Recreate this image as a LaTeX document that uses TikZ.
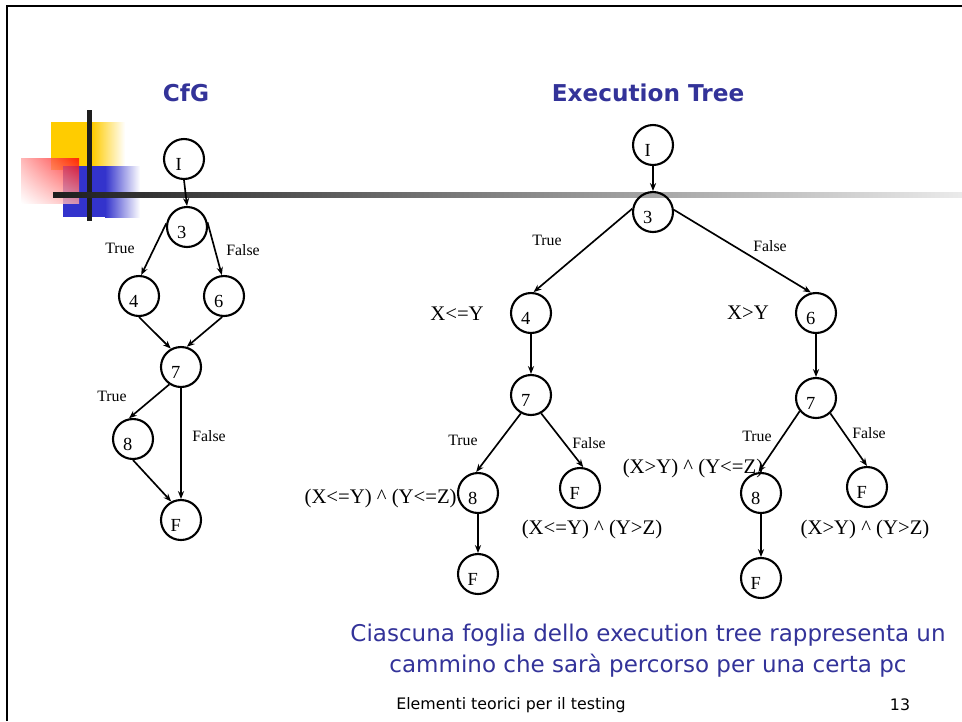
\documentclass[tikz,border=0pt]{standalone}
\usepackage{fontspec}
\setmainfont{Liberation Serif}
\newfontfamily\slidefont{DejaVu Sans}
\usetikzlibrary{arrows.meta,shadings}
\definecolor{slideblue}{RGB}{51,51,153}
\definecolor{barblack}{RGB}{30,30,30}
\definecolor{sqyellow}{RGB}{255,204,0}
\definecolor{sqblue}{RGB}{51,51,204}
\definecolor{sqred}{RGB}{255,0,0}
\tikzset{
  nd/.style={circle,draw,line width=1.2pt,minimum size=0.8cm,inner sep=0pt,
    label={[inner sep=0pt,xshift=-3pt,yshift=-3pt,font=\fontsize{10.5}{12}\selectfont]center:#1}},
  arc/.style={->,line width=0.95pt},
  tf/.style={font=\fontsize{9}{11}\selectfont,inner sep=0pt},
  pc/.style={font=\fontsize{11.8}{14}\selectfont,inner sep=0pt},
  ttl/.style={font=\slidefont\bfseries\fontsize{13.2}{16}\selectfont,text=slideblue},
}

\begin{document}
\begin{tikzpicture}[x=0.02cm,y=-0.02cm,>={Stealth[length=4.5pt,width=3.5pt]}]
      \useasboundingbox (0,0) rectangle (962,721) ;
      \draw[line width=1.2pt] (7,721) -- (7,6) -- (962,6) ;
      % corner squares and bars
      \fill[sqyellow] (51,122) rectangle (92,170) ;
      \shade[left color=sqyellow,right color=white] (92,122) rectangle (125,170) ;
      \fill[sqblue] (63,166) rectangle (105,217) ;
      \shade[left color=sqblue,right color=white] (105,166) rectangle (140,217) ;
      \shade[upper right=sqred,upper left=sqred!35!white,lower right=sqred!35!white,
        lower left=white,fill opacity=0.8] (21,158) rectangle (79,203) ;
      \fill[barblack] (87,110) rectangle (92,221) ;
      \shade[left color=barblack,right color=black!8] (53,192) rectangle (962,197) ;
      \node[ttl] (tcfg) at (186,93) {CfG} ;
      \node[ttl] (tex) at (648,93) {Execution Tree} ;
      % CfG
      \node[nd=I] (cI) at (184,159) {} ;
      \node[nd=3] (c3) at (187,227) {} ;
      \node[nd=4] (c4) at (139,296) {} ;
      \node[nd=6] (c6) at (224,296) {} ;
      \node[nd=7] (c7) at (181,367) {} ;
      \node[nd=8] (c8) at (133,439) {} ;
      \node[nd=F] (cF) at (181,520) {} ;
      \draw[arc] (cI.south) -- (c3.north) ;
      \draw[arc] (c3.170) -- (c4.84) ;
      \draw[arc] (c3.13) -- (c6.96) ;
      \draw[arc] (c4.south) -- (c7.119) ;
      \draw[arc] (c6.265) -- (c7.74) ;
      \draw[arc] (c7.236) -- (c8.101) ;
      \draw[arc] (c7.south) -- (cF.north) ;
      \draw[arc] (c8.south) -- (cF.118) ;
      \node[tf] (ct1) at (120,248) {True} ;
      \node[tf] (cf1) at (243,250) {False} ;
      \node[tf] (ct2) at (112,396) {True} ;
      \node[tf] (cf2) at (209,436) {False} ;
      % execution tree
      \node[nd=I] (eI) at (653,145) {} ;
      \node[nd=3] (e3) at (653,212) {} ;
      \node[nd=4] (e4) at (531,313) {} ;
      \node[nd=6] (e6) at (816,313) {} ;
      \node[nd=7] (e7a) at (531,395) {} ;
      \node[nd=7] (e7b) at (816,398) {} ;
      \node[nd=8] (e8a) at (478,493) {} ;
      \node[nd=F] (eFa) at (580,488) {} ;
      \node[nd=F] (eFc) at (478,574) {} ;
      \node[nd=8] (e8b) at (761,493) {} ;
      \node[nd=F] (eFb) at (867,487) {} ;
      \node[nd=F] (eFd) at (761,578) {} ;
      \draw[arc] (eI.south) -- (e3.north) ;
      \draw[arc] (e3.171) -- (e4.83) ;
      \draw[arc] (e3.6) -- (e6.104) ;
      \draw[arc] (e4.south) -- (e7a.north) ;
      \draw[arc] (e6.south) -- (e7b.north) ;
      \draw[arc] (e7a.241) -- (e8a.95) ;
      \draw[arc] (e7a.299) -- (eFa.81) ;
      \draw[arc] (e8a.south) -- (eFc.north) ;
      \draw[arc] (e7b.219) -- (e8b.97) ;
      \draw[arc] (e7b.313) -- (eFb.north) ;
      \draw[arc] (e8b.south) -- (eFd.north) ;
      \node[tf] (et1) at (547,240) {True} ;
      \node[tf] (ef1) at (770,246) {False} ;
      \node[pc] (p4) at (457,314) {X<=Y} ;
      \node[pc] (p6) at (748,313) {X>Y} ;
      \node[tf] (et2) at (463,440) {True} ;
      \node[tf] (ef2) at (589,443) {False} ;
      \node[tf] (et3) at (757,436) {True} ;
      \node[tf] (ef3) at (869,433) {False} ;
      \node[pc,anchor=east] (p8a) at (457,498) {(X<=Y) \textasciicircum{} (Y<=Z)} ;
      \node[pc] (pFa) at (592,529) {(X<=Y) \textasciicircum{} (Y>Z)} ;
      \node[pc] (p8b) at (693,468) {(X>Y) \textasciicircum{} (Y<=Z)} ;
      \node[pc] (pFb) at (865,529) {(X>Y) \textasciicircum{} (Y>Z)} ;
      % note and footer
      \node[align=center,text=slideblue,font=\slidefont\fontsize{13.1}{17.6}\selectfont] %
      (note) at (648,651) {Ciascuna foglia dello execution tree rappresenta un\\
        cammino che sarà percorso per una certa pc} ;
      \node[font=\slidefont\fontsize{9}{11}\selectfont] (foot) at (511,705) {Elementi teorici per il testing} ;
      \node[font=\slidefont\fontsize{9}{11}\selectfont] (pg) at (900,705) {13} ;
    \end{tikzpicture}
\end{document}
